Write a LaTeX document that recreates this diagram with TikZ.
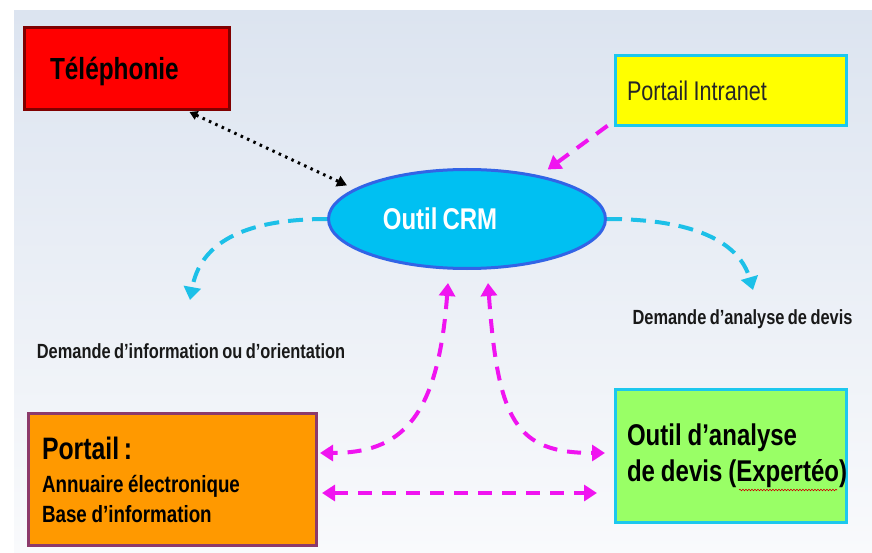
\documentclass[tikz,border=0pt]{standalone}
\usepackage{fontspec}
\setmainfont{Liberation Sans}[FakeStretch=0.8,WordSpace=0.75]
\usetikzlibrary{shapes.geometric,arrows.meta,calc,decorations.pathmorphing}

\definecolor{bgtop}{RGB}{220,228,240}
\definecolor{bgbot}{RGB}{249,250,252}
\definecolor{telred}{RGB}{255,0,0}
\definecolor{teldark}{RGB}{128,0,0}
\definecolor{intrayellow}{RGB}{255,255,0}
\definecolor{boxcyan}{RGB}{28,200,238}
\definecolor{crmfill}{RGB}{0,192,242}
\definecolor{crmblue}{RGB}{50,100,230}
\definecolor{portorange}{RGB}{255,153,0}
\definecolor{portplum}{RGB}{140,58,106}
\definecolor{devisgreen}{RGB}{153,255,102}
\definecolor{flowmag}{RGB}{240,20,240}
\definecolor{flowcyan}{RGB}{28,192,232}

\newcommand\tightsp{\spaceskip=0.2em\relax}

\tikzset{
  magtip/.tip={Triangle[length=13pt,width=16pt]},
  cyantip/.tip={Triangle[length=13pt,width=17pt]},
  teltip/.tip={Triangle[length=10pt,width=11pt]},
  telsmalltip/.tip={Triangle[length=8pt,width=9pt]}
}

\begin{document}
\begin{tikzpicture}[x=1pt,y=1pt,yscale=-1,xscale=1,
  box/.style={draw, line width=3pt, inner ysep=4pt, align=left},
  lbl/.style={inner sep=0pt, font=\fontsize{20.5}{24}\selectfont\bfseries, text=black!90},
  magflow/.style={draw=flowmag, line width=4pt, dash pattern=on 14pt off 10pt},
  cyanflow/.style={draw=flowcyan, line width=4pt, dash pattern=on 15pt off 9pt}]

% background
\fill[white] (0,0) rectangle (872,553);
\shade[top color=bgtop, bottom color=bgbot] (14,11) rectangle (872,553);

% Boxes
\node[box, fill=telred, draw=teldark, line width=2.5pt, minimum width=205pt, minimum height=82pt,
  inner xsep=25.5pt, text width=154pt, font=\fontsize{30.5}{34}\selectfont\bfseries]
  (tel) at (127,68.5) {\raisebox{-11pt}[0pt][0pt]{Téléphonie}};
\node[box, fill=intrayellow, draw=boxcyan, minimum width=231pt, minimum height=70pt,
  inner xsep=11.5pt, text width=208pt, font=\fontsize{27}{30}\selectfont, text=black!85]
  (intra) at (731,90.5) {\tightsp Portail Intranet};
\node[ellipse, fill=crmfill, draw=crmblue, line width=3pt, minimum width=277pt, minimum height=99pt,
  font=\fontsize{30}{34}\selectfont\bfseries, text=white]
  (crm) at (467,219) {Outil CRM\kern54pt};
\node[box, fill=portorange, draw=portplum, minimum width=288pt, minimum height=132pt,
  inner xsep=13.5pt, text width=261pt, font=\fontsize{23.5}{29.5}\selectfont\bfseries]
  (portail) at (172.5,479.5) {\tightsp{\fontsize{31}{30}\selectfont Portail :}\\[4pt]Annuaire électronique\\Base d’information};
\node[box, fill=devisgreen, draw=boxcyan, minimum width=231pt, minimum height=133pt,
  inner xsep=11.5pt, text width=208pt, font=\fontsize{30}{36}\selectfont\bfseries]
  (devis) at (731,456) {\tightsp\mbox{Outil d’analyse}\\\mbox{de devis (Expertéo)}};

% Text Node
\node[lbl] (infoLbl) at (191,351) {Demande d’information ou d’orientation};
% Text Node
\node[lbl] (analyseLbl) at (742.5,319) {Demande d’analyse de devis};

% spelling underline
\draw[red!80!black, line width=0.6pt, decorate, decoration={snake, amplitude=0.8pt, segment length=3pt}]
  (739,490) -- (837,490);

% free ends
\coordinate (infoTip) at (190,300);
\coordinate (analyseTip) at (753,290);

%Straight Lines
\draw[black, line width=3pt, dash pattern=on 2.5pt off 4.5pt, telsmalltip-teltip,
  shorten <=3pt, shorten >=8pt]
  ($(tel.south east)+(-44,0)$) -- (crm.165);
\draw[magflow, -magtip, shorten <=8pt, shorten >=10pt]
  ($(intra.south west)+(0,-6)$) -- (crm.31);

%Curve Lines
\draw[cyanflow, -cyantip]
  (crm.west) .. controls (240,219) and (200,245) .. (infoTip);
\draw[cyanflow, -cyantip]
  (crm.east) .. controls (700,219) and (740,245) .. (analyseTip);
\draw[magflow, magtip-magtip, shorten >=2pt]
  ($(crm.south)+(-19,13)$) .. controls (438,420) and (400,453) .. ($(portail.east)+(0,-26.5)$);
\draw[magflow, magtip-magtip, shorten >=9pt]
  ($(crm.south)+(21,13)$) .. controls (498,420) and (515,453) .. ($(devis.west)+(0,-3)$);
\draw[magflow, magtip-magtip, shorten <=4pt, shorten >=17pt]
  ($(portail.east)+(0,13.5)$) -- ($(devis.west)+(0,37)$);

\end{tikzpicture}
\end{document}
